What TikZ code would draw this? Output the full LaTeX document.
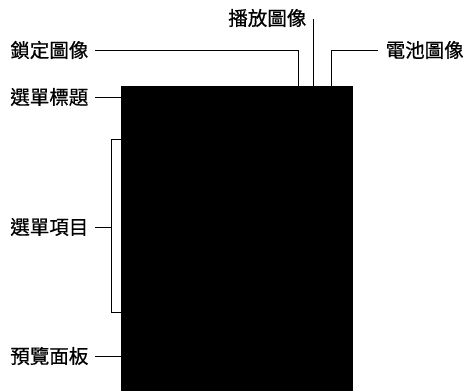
\documentclass[tikz,border=0pt]{standalone}
\usepackage{fontspec}
\newfontfamily\cjk[FakeBold=0.6]{Noto Sans CJK TC}
\begin{document}
\begin{tikzpicture}[x=1pt,y=1pt,
  lbl/.style={inner sep=0pt,font=\cjk\fontsize{19.5}{22}\selectfont},
  conn/.style={draw=black,line width=1pt},
  screen/.style={fill=black,draw=none,inner sep=0pt,minimum width=232pt,minimum height=305pt,anchor=north west}]
\useasboundingbox (0,0) rectangle (464,-391);
\node[screen] (scr) at (121,-86) {};
\node[lbl,anchor=east] (lock) at (88.5,-50) {鎖定圖像};
\node[lbl,anchor=east] (play) at (306.5,-18) {播放圖像};
\node[lbl,anchor=west] (batt) at (385.5,-50) {電池圖像};
\node[lbl,anchor=east] (title) at (88.5,-97) {選單標題};
\node[lbl,anchor=east] (items) at (88.5,-227) {選單項目};
\node[lbl,anchor=east] (prev) at (88.5,-356) {預覽面板};
\coordinate (lockend) at (298,-86);
\coordinate (playtop) at (313,-19);
\coordinate (playend) at (313,-86);
\coordinate (battend) at (331,-86);
\coordinate (brk) at (111,-227);
\coordinate (brtop) at (111,-139);
\coordinate (brbot) at (111,-312);
\draw[conn] ([xshift=6.5pt]lock.east) -| (lockend);
\draw[conn] (playtop) -- (playend);
\draw[conn] ([xshift=-7.5pt]batt.west) -| (battend);
\draw[conn] ([xshift=6.5pt]title.east) -- (title.east -| scr.west);
\draw[conn] ([xshift=6.5pt]items.east) -- (brk);
\draw[conn] (brtop -| scr.west) -- (brtop) -- (brbot) -- (brbot -| scr.west);
\draw[conn] ([xshift=6.5pt]prev.east) -- (prev.east -| scr.west);
\end{tikzpicture}
\end{document}
